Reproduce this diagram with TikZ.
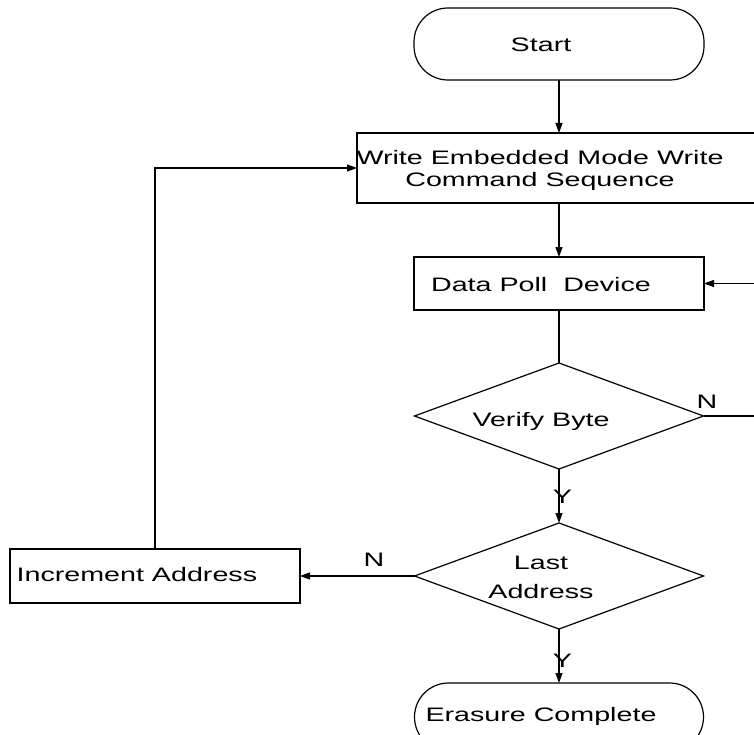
\documentclass[tikz,border=0pt]{standalone}
\usepackage{fontspec}
\newfontfamily\diagfont{Liberation Sans}[FakeStretch=1.47]
\usetikzlibrary{arrows.meta,shapes.geometric}
\begin{document}
\begin{tikzpicture}[x=1pt,y=-1pt,
  line width=1.2pt,
  shapebox/.style={draw, inner sep=0pt, outer sep=0pt},
  termbox/.style={shapebox, rounded corners=34pt},
  decbox/.style={shapebox, diamond},
  txt/.style={inner sep=0pt, font=\diagfont\fontsize{19.5}{22}\selectfont, anchor=base},
  arr/.style={-{Triangle[length=10pt,width=7pt]}},
  ln/.style={-}
]
\useasboundingbox (0,0) rectangle (754,735);

% shapes
\node[termbox, minimum width=290pt, minimum height=72pt] (start) at (559,44) {};
\node[shapebox, minimum width=405pt, minimum height=70pt] (write) at (559.5,168) {};
\node[shapebox, minimum width=290pt, minimum height=53pt] (data) at (559,283.5) {};
\node[decbox, minimum width=289pt, minimum height=106pt] (verify) at (559,416) {};
\node[decbox, minimum width=289pt, minimum height=106pt] (last) at (559,576) {};
\node[shapebox, minimum width=290pt, minimum height=54pt] (inc) at (155,576) {};
\node[termbox, minimum width=289pt, minimum height=68pt] (erase) at (559,717) {};

% texts
\node[txt] (starttxt) at (541,52) {Start};
\node[txt] (writetxta) at (540,165) {Write Embedded Mode Write};
\node[txt] (writetxtb) at (540,187) {Command Sequence};
\node[txt] (datatxt) at (541,291) {Data Poll~ Device};
\node[txt] (verifytxt) at (541,426) {Verify Byte};
\node[txt] (lasttxta) at (541,569) {Last};
\node[txt] (lasttxtb) at (541,598) {Address};
\node[txt, anchor=base west] (inctxt) at (16,581) {Increment Address};
\node[txt] (erasetxt) at (541,721) {Erasure Complete};

% labels
\node[txt] (nverify) at (707,408) {N};
\node[txt] (nlast) at (374,566) {N};
\node[txt] (yverify) at (562.5,503) {Y};
\node[txt] (ylast) at (562.5,667) {Y};

% free ends on the right
\coordinate (rin) at (762,283.5);
\coordinate (rout) at (762,416);

% connectors
\draw[arr] (start.south) -- (start.south |- write.north);
\draw[arr] (write.south -| data.north) -- (data.north);
\draw[ln] (data.south) -- (verify.north);
\draw[arr] (verify.south) -- (last.north);
\draw[arr] (last.south) -- (erase.north);
\draw[arr] (last.west) -- (inc.east);
\draw[arr] (inc.north) |- (write.west);
\draw[arr] (rin) -- (data.east);
\draw[ln] (verify.east) -- (rout);
\end{tikzpicture}
\end{document}
